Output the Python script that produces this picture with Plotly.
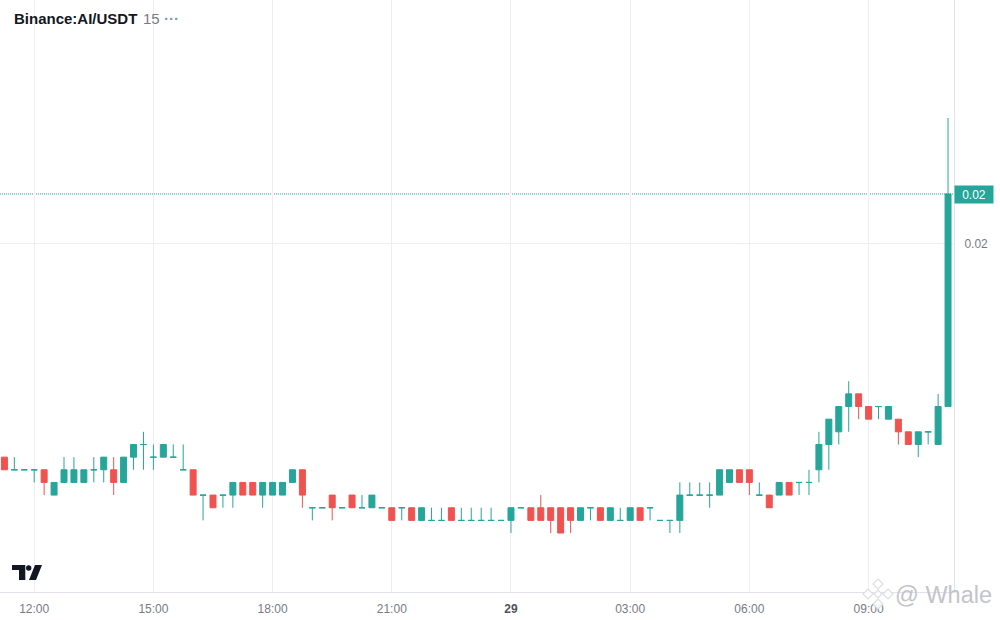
import pandas as pd
import plotly.graph_objects as go

times = pd.date_range("2025-03-28 11:15", periods=96, freq="15min")

opens = [
    0.01833, 0.018229, 0.018229, 0.018229, 0.01823, 0.01803, 0.01813, 0.01813, 0.01813, 0.018229, 0.01823, 0.01823,
    0.01813, 0.01833, 0.018429, 0.018329, 0.01833, 0.018329, 0.018229, 0.01823, 0.018029, 0.01803, 0.018029, 0.01803,
    0.01813, 0.01813, 0.01803, 0.01803, 0.01803, 0.01813, 0.01823, 0.017929, 0.017929, 0.01803, 0.017929, 0.01803,
    0.017929, 0.01793, 0.017929, 0.01793, 0.017929, 0.01793, 0.01783, 0.017829, 0.017829, 0.01793, 0.017829, 0.017829,
    0.017829, 0.017829, 0.017829, 0.01783, 0.017929, 0.01793, 0.01793, 0.01793, 0.01793, 0.01793, 0.01783, 0.017929,
    0.01793, 0.01783, 0.017829, 0.01783, 0.01793, 0.017929, 0.017829, 0.017829, 0.01783, 0.018029, 0.018029, 0.018029,
    0.01803, 0.01813, 0.01823, 0.01823, 0.018029, 0.01803, 0.01803, 0.01813, 0.018129, 0.018129, 0.01823, 0.01843,
    0.01853, 0.01873, 0.01883, 0.01873, 0.018729, 0.01863, 0.01863, 0.01853, 0.01843, 0.018529, 0.01843, 0.01873,
]
highs = [
    0.01833, 0.01833, 0.01823, 0.01823, 0.01823, 0.01813, 0.01833, 0.01833, 0.01823, 0.01833, 0.01833, 0.01833,
    0.01833, 0.01843, 0.01853, 0.01843, 0.01843, 0.01843, 0.01843, 0.01823, 0.01803, 0.01803, 0.01803, 0.01813,
    0.01813, 0.01813, 0.01813, 0.01813, 0.01813, 0.01823, 0.01823, 0.01793, 0.01793, 0.01803, 0.01793, 0.01803,
    0.01803, 0.01803, 0.01793, 0.01793, 0.01793, 0.01793, 0.01793, 0.01793, 0.01793, 0.01793, 0.01793, 0.01793,
    0.01793, 0.01793, 0.01783, 0.01793, 0.01793, 0.01793, 0.01803, 0.01793, 0.01793, 0.01793, 0.01793, 0.01793,
    0.01793, 0.01793, 0.01793, 0.01793, 0.01793, 0.01793, 0.01783, 0.01783, 0.01813, 0.01813, 0.01813, 0.01813,
    0.01823, 0.01823, 0.01823, 0.01823, 0.01813, 0.01803, 0.01813, 0.01813, 0.01813, 0.01823, 0.01853, 0.01863,
    0.01873, 0.01893, 0.01883, 0.01873, 0.01873, 0.01873, 0.01863, 0.01853, 0.01853, 0.01853, 0.01883, 0.02101,
]
lows = [
    0.01823, 0.01823, 0.01823, 0.01813, 0.01803, 0.01803, 0.01813, 0.01813, 0.01813, 0.01813, 0.01813, 0.01803,
    0.01813, 0.01823, 0.01823, 0.01823, 0.01833, 0.01833, 0.01823, 0.01803, 0.01783, 0.01793, 0.01793, 0.01793,
    0.01803, 0.01803, 0.01793, 0.01803, 0.01803, 0.01813, 0.01793, 0.01783, 0.01793, 0.01783, 0.01793, 0.01793,
    0.01793, 0.01793, 0.01793, 0.01783, 0.01783, 0.01783, 0.01783, 0.01783, 0.01783, 0.01783, 0.01783, 0.01783,
    0.01783, 0.01783, 0.01783, 0.01773, 0.01793, 0.01783, 0.01783, 0.01773, 0.01773, 0.01773, 0.01783, 0.01783,
    0.01783, 0.01783, 0.01783, 0.01783, 0.01783, 0.01783, 0.01783, 0.01773, 0.01773, 0.01803, 0.01803, 0.01793,
    0.01803, 0.01813, 0.01813, 0.01803, 0.01803, 0.01793, 0.01803, 0.01803, 0.01803, 0.01803, 0.01813, 0.01823,
    0.01843, 0.01853, 0.01863, 0.01863, 0.01863, 0.01863, 0.01843, 0.01843, 0.01833, 0.01843, 0.01843, 0.01873,
]
closes = [
    0.01823, 0.01823, 0.01823, 0.01823, 0.01813, 0.01813, 0.01823, 0.01823, 0.01823, 0.01823, 0.01833, 0.01813,
    0.01833, 0.01843, 0.01843, 0.01833, 0.01843, 0.01833, 0.01823, 0.01803, 0.01803, 0.01793, 0.01803, 0.01813,
    0.01803, 0.01803, 0.01813, 0.01813, 0.01813, 0.01823, 0.01803, 0.01793, 0.01793, 0.01793, 0.01793, 0.01793,
    0.01793, 0.01803, 0.01793, 0.01783, 0.01793, 0.01783, 0.01793, 0.01783, 0.01783, 0.01783, 0.01783, 0.01783,
    0.01783, 0.01783, 0.01783, 0.01793, 0.01793, 0.01783, 0.01783, 0.01783, 0.01773, 0.01783, 0.01793, 0.01793,
    0.01783, 0.01793, 0.01783, 0.01793, 0.01783, 0.01793, 0.01783, 0.01783, 0.01803, 0.01803, 0.01803, 0.01803,
    0.01823, 0.01823, 0.01813, 0.01813, 0.01803, 0.01793, 0.01813, 0.01803, 0.01813, 0.01813, 0.01843, 0.01863,
    0.01873, 0.01883, 0.01873, 0.01863, 0.01873, 0.01873, 0.01853, 0.01843, 0.01853, 0.01853, 0.01873, 0.02041,
]

tick_times = ["2025-03-28 12:00", "2025-03-28 15:00", "2025-03-28 18:00", "2025-03-28 21:00",
              "2025-03-29 00:00", "2025-03-29 03:00", "2025-03-29 06:00", "2025-03-29 09:00"]
tick_labels = ["12:00", "15:00", "18:00", "21:00", '<span style="color:#50535e"><b>29</b></span>',
               "03:00", "06:00", "09:00"]
price_ticks = [0.020015]
price_labels = ["0.02"]

UP, DOWN = "#26a69a", "#ef5350"
W, H, PW, PH = 1000, 620, 954, 592
FONT = "Liberation Sans"


def fx(x):
    return x / PW


def fy(y):
    return 1 - y / PH


def poly(points):
    return "M" + "L".join(f"{fx(x):.5f},{fy(y):.5f}" for x, y in points) + "Z"


def rhomb(cx, cy, r):
    return poly([(cx, cy - r), (cx + r, cy), (cx, cy + r), (cx - r, cy)])


fig = go.Figure(go.Candlestick(
    x=times, open=opens, high=highs, low=lows, close=closes,
    increasing=dict(line=dict(color=UP, width=1), fillcolor=UP),
    decreasing=dict(line=dict(color=DOWN, width=1), fillcolor=DOWN),
    whiskerwidth=0, hoverinfo="skip", showlegend=False,
))

shapes = [
    dict(type="line", xref="paper", yref="y", x0=0, x1=1, y0=closes[-1], y1=closes[-1],
         line=dict(color="#1fae9e", width=1, dash="1px,1px"), layer="below"),
    dict(type="path", xref="paper", yref="paper", line=dict(width=0), fillcolor="#131722",
         path=poly([(12, 565), (25.3, 565), (25.3, 580), (19, 580), (19, 570), (12, 570)])),
    dict(type="path", xref="paper", yref="paper", line=dict(width=0), fillcolor="#131722",
         path=poly([(35, 565), (42, 565), (36, 580), (29, 580)])),
    dict(type="circle", xref="paper", yref="paper", line=dict(width=0), fillcolor="#131722",
         x0=fx(26), x1=fx(31.4), y0=fy(570.7), y1=fy(565.3)),
]
for cx, cy, r in [(878, 584, 5), (868, 594, 5), (888, 594, 5), (878, 594, 4), (878, 604, 5)]:
    shapes.append(dict(type="path", xref="paper", yref="paper", path=rhomb(cx, cy, r),
                       line=dict(color="#dcdee2", width=1.2), fillcolor="rgba(255,255,255,0.88)"))

annotations = [
    dict(xref="paper", yref="paper", x=fx(12), y=fy(18.5), xanchor="left", yanchor="middle",
         text="<b>Binance:AI/USDT</b>", showarrow=False,
         font=dict(family=FONT, size=15, color="#131722")),
    dict(xref="paper", yref="paper", x=fx(141), y=fy(18.5), xanchor="left", yanchor="middle",
         text="15", showarrow=False, font=dict(family=FONT, size=15, color="#787b86")),
    dict(xref="paper", yref="paper", x=fx(162), y=fy(18.5), xanchor="left", yanchor="middle",
         text="<b>···</b>", showarrow=False, font=dict(family=FONT, size=15, color="#6f9fc0")),
    dict(xref="paper", yref="y", x=1, y=closes[-1], yshift=-1, xanchor="left", yanchor="middle",
         text="0.02", showarrow=False, bgcolor=UP, width=38, height=17, borderpad=0,
         font=dict(family=FONT, size=12, color="#ffffff")),
    dict(xref="paper", yref="paper", x=fx(994), y=fy(595), xanchor="right", yanchor="middle",
         text="@ Whale", showarrow=False, font=dict(family=FONT, size=23.5, color="#c2c4c8")),
]

fig.update_layout(
    width=W, height=H, margin=dict(l=0, r=W - PW, t=0, b=H - PH, pad=0, autoexpand=False),
    paper_bgcolor="#ffffff", plot_bgcolor="#ffffff", showlegend=False, boxgap=0.33, boxgroupgap=0.1,
    font=dict(family=FONT, size=12, color="#787b86"),
    shapes=shapes, annotations=annotations, dragmode=False,
    xaxis=dict(type="date", rangeslider=dict(visible=False),
               range=["2025-03-28 11:08:21", "2025-03-29 11:09:00"],
               tickmode="array", tickvals=tick_times, ticktext=tick_labels, tickangle=0,
               showgrid=True, gridcolor="#eceef2", gridwidth=1, zeroline=False,
               showline=True, linecolor="#e0e3eb", linewidth=1, ticks="", ticklabelstandoff=6,
               tickfont=dict(family=FONT, size=12, color="#787b86")),
    yaxis=dict(side="right", range=[0.017264, 0.021943], tickmode="array",
               tickvals=price_ticks, ticktext=price_labels,
               showgrid=True, gridcolor="#eceef2", gridwidth=1, zeroline=False,
               showline=True, linecolor="#e0e3eb", linewidth=1, ticks="", ticklabelstandoff=7,
               tickfont=dict(family=FONT, size=12, color="#787b86")),
)

fig.write_html("out.html", config=dict(displayModeBar=False),
               post_script="document.body.style.margin='0';")
